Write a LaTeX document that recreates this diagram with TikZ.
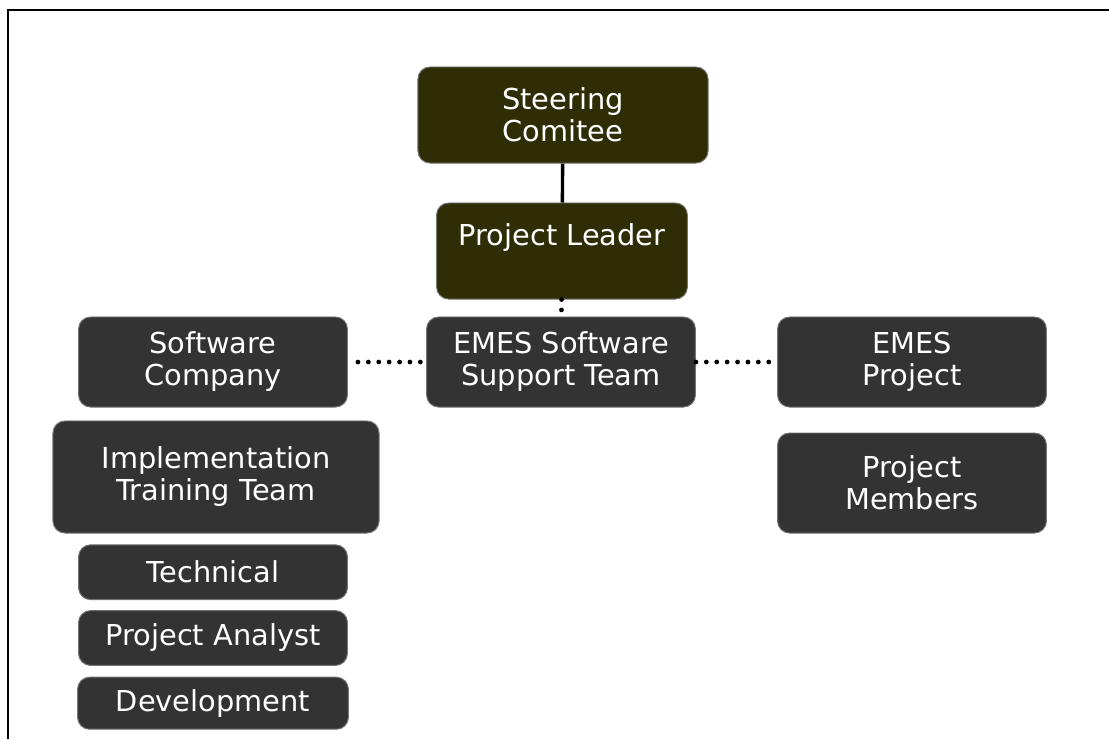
\documentclass[tikz,border=0pt]{standalone}
\usepackage{fontspec}
\setmainfont{DejaVu Sans}
\usetikzlibrary{positioning}

\definecolor{olivebox}{HTML}{2F2D06}
\definecolor{darkbox}{HTML}{333333}

\begin{document}
\begin{tikzpicture}[
    x=0.025cm, y=-0.025cm,
    box/.style={rectangle, draw=black!55, line width=0.7pt, rounded corners=0.3cm,
                fill=darkbox, text=white, align=center, inner sep=0pt,
                minimum width=6.72cm, minimum height=2.25cm,
                font=\fontsize{20.5}{22.8}\selectfont},
    lead/.style={box, fill=olivebox},
    link/.style={line width=2.4pt},
    dotlink/.style={line width=3.4pt, line cap=round, dash pattern=on 0pt off 0.26cm}
]
  \useasboundingbox (0,0) rectangle (1109,739);
  \draw[line width=1.4pt] (8,739) -- (8,10) -- (1109,10);

  % --- Top of the tree ---
  \node[lead, minimum width=7.25cm, minimum height=2.4cm] (steer) at (563,115) {Steering\\Comitee};
  \node[lead, minimum width=6.27cm, minimum height=2.4cm] (leader) at (562,251) {Project Leader\\\mbox{}};

  % --- Middle row ---
  \node[box] (support) at (561,362) {EMES Software\\Support Team};
  \node[box] (swco) at (213,362) {Software\\Company};
  \node[box] (emesp) at (912,362) {EMES\\Project};

  % --- Left column ---
  \node[box, minimum width=8.15cm, minimum height=2.8cm] (impl) at (216,477) {Implementation\\Training Team};
  \node[box, minimum height=1.37cm, below=0.27cm of impl.south -| swco] (tech) {Technical};
  \node[box, minimum height=1.37cm, below=0.25cm of tech] (analyst) {Project Analyst};
  \node[box, minimum width=6.77cm, minimum height=1.3cm, below=0.27cm of analyst] (devel) {Development};

  % --- Right column ---
  \node[box, minimum height=2.5cm] (members) at (912,483) {Project\\Members};

  % Connectors
  \draw[link] (steer) -- (leader);
  \draw[dotlink] (leader) -- (support);
  \draw[dotlink] ([xshift=0.25cm]swco.east) -- (support);
  \draw[dotlink] (support) -- (emesp);

\end{tikzpicture}
\end{document}
